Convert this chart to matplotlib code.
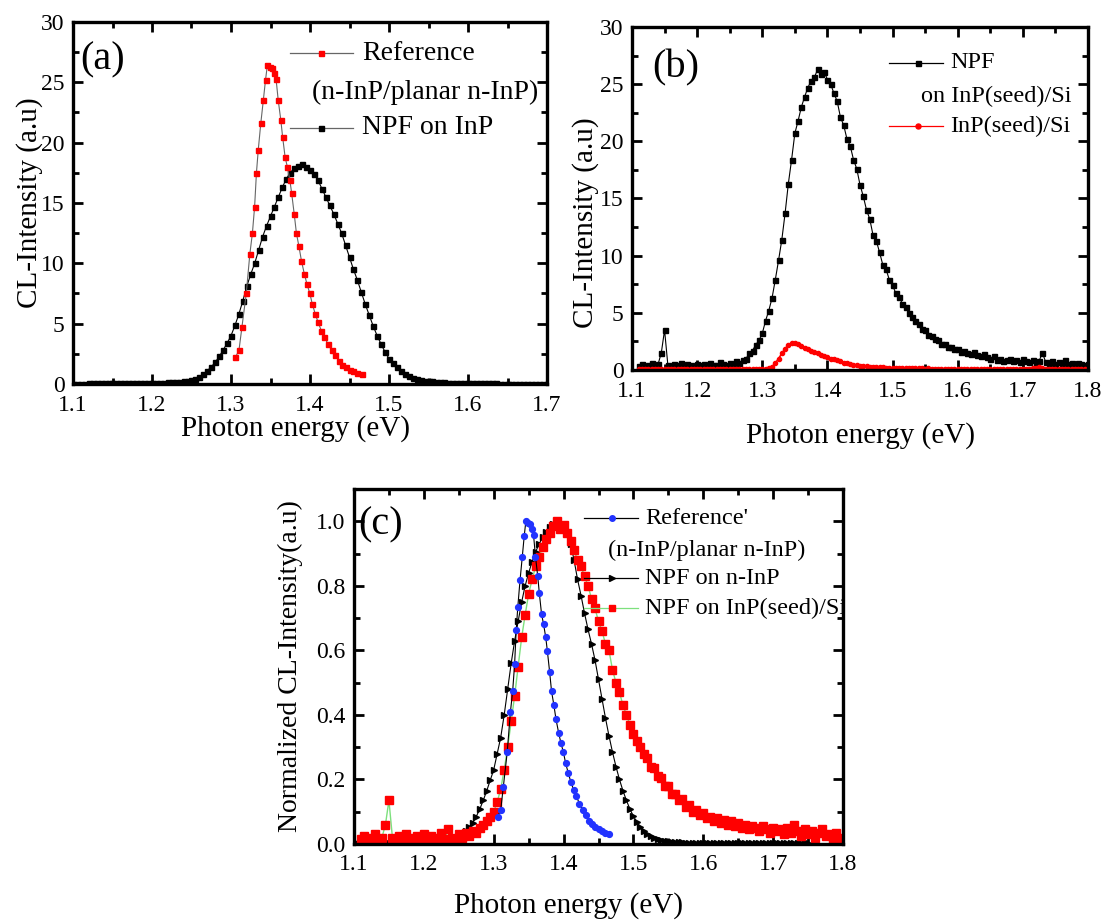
import numpy as np
import matplotlib
matplotlib.use("Agg")
import matplotlib.pyplot as plt
from matplotlib.ticker import MultipleLocator, FormatStrFormatter
from matplotlib.lines import Line2D

plt.rcParams['font.family'] = ['Liberation Serif', 'DejaVu Serif']

# ---------------- data ----------------
# (a) NPF on InP : energy grid 1.100 .. 1.700 step 0.005
a_npf_e = np.round(np.arange(1.100, 1.7001, 0.005), 3)
a_npf_i = [
    0.04, 0.04, 0.04, 0.04, 0.05, 0.05, 0.05, 0.05, 0.05, 0.05, 0.06, 0.06, 0.06, 0.06, 0.06, 0.07, 0.07, 0.07, 0.08, 0.08,
    0.09, 0.10, 0.11, 0.12, 0.13, 0.15, 0.17, 0.20, 0.24, 0.29, 0.35, 0.45, 0.60, 0.82, 1.10, 1.42, 1.80, 2.28, 2.80, 3.38,
    4.00, 4.85, 5.80, 6.90, 8.10, 9.10, 10.0, 11.1, 12.2, 13.1, 13.9, 14.7, 15.5, 16.3, 17.0, 17.5, 17.9, 18.1, 18.2, 18.0,
    17.7, 17.4, 16.9, 16.2, 15.5, 14.8, 14.1, 13.3, 12.5, 11.5, 10.5, 9.5, 8.6, 7.6, 6.6, 5.7, 4.8, 4.0, 3.3, 2.65,
    2.10, 1.70, 1.40, 1.08, 0.85, 0.66, 0.52, 0.42, 0.35, 0.29, 0.25, 0.21, 0.17, 0.15, 0.13, 0.11, 0.10, 0.09, 0.08, 0.07,
    0.06, 0.06, 0.06, 0.05, 0.05, 0.05, 0.05, 0.05, 0.04, 0.04, 0.04, 0.04, 0.04, 0.04, 0.03, 0.03, 0.03, 0.03, 0.03, 0.03, 0.03,
]

# (a) Reference (n-InP/planar n-InP)
a_ref_e = [
    1.3055, 1.3101, 1.3138, 1.3193, 1.3239, 1.3271, 1.3299, 1.3322, 1.3345, 1.3377,
    1.3409, 1.3437, 1.3460, 1.3492, 1.3515, 1.3547, 1.3570, 1.3598, 1.3630, 1.3653,
    1.3685, 1.3713, 1.3745, 1.3768, 1.3800, 1.3828, 1.3860, 1.3892, 1.3929, 1.3961,
    1.3998, 1.4030, 1.4067, 1.4103, 1.4145, 1.4182, 1.4228, 1.4274, 1.4320, 1.4366,
    1.4411, 1.4457, 1.4503, 1.4549, 1.4595, 1.4655,
]
a_ref_i = [
    2.2, 2.8, 4.7, 7.5, 10.8, 12.5, 14.7, 17.5, 19.4, 21.6,
    23.5, 25.2, 26.4, 26.3, 26.2, 25.8, 25.3, 23.5, 21.9, 20.5,
    18.8, 18.0, 16.9, 15.8, 14.1, 12.5, 11.4, 10.2, 9.1, 8.3,
    7.5, 6.6, 5.8, 5.1, 4.4, 3.9, 3.3, 2.8, 2.4, 1.9,
    1.6, 1.4, 1.2, 1.05, 0.9, 0.85,
]

# (b) energy grid 1.110 .. 1.800 step 0.005
b_e = np.round(np.arange(1.110, 1.8001, 0.005), 3)
b_npf_i = [
    0.35, 0.55, 0.30, 0.45, 0.60, 0.40, 0.50, 1.50, 3.50, 0.45, 0.30, 0.55, 0.40, 0.65, 0.35, 0.50, 0.45, 0.30, 0.55, 0.40,
    0.50, 0.35, 0.60, 0.45, 0.40, 0.70, 0.50, 0.45, 0.60, 0.55, 0.75, 0.60, 0.90, 1.00, 1.45, 1.70, 2.20, 2.60, 3.20, 4.30,
    5.2, 6.3, 7.9, 9.6, 11.4, 13.7, 16.3, 18.4, 20.7, 21.8, 23.0, 23.9, 24.7, 25.3, 25.6, 26.3, 25.9, 26.1, 25.4, 25.0,
    24.2, 23.5, 22.1, 21.4, 20.2, 19.6, 18.4, 17.6, 16.2, 15.2, 14.0, 13.2, 11.8, 11.3, 10.3, 9.2, 8.8, 7.9, 7.4, 6.7,
    6.4, 5.8, 5.5, 5.0, 4.6, 4.3, 4.0, 3.6, 3.5, 3.1, 3.0, 2.7, 2.6, 2.3, 2.3, 2.0, 2.0, 1.8, 1.8, 1.6,
    1.7, 1.5, 1.4, 1.6, 1.3, 1.2, 1.4, 1.1, 1.0, 1.2, 0.9, 1.0, 0.8, 0.9, 1.0, 0.8, 0.9, 0.7, 1.0, 0.8,
    0.7, 0.9, 0.6, 0.8, 1.5, 0.7, 0.6, 0.8, 0.5, 0.7, 0.6, 0.9, 0.5, 0.6, 0.4, 0.6, 0.5, 0.4, 0.5,
]
b_seed_i = [
    0.10, 0.12, 0.09, 0.11, 0.10, 0.12, 0.10, 0.11, 0.09, 0.12, 0.10, 0.11, 0.10, 0.12, 0.09, 0.11, 0.10, 0.12, 0.10, 0.11,
    0.10, 0.12, 0.10, 0.11, 0.09, 0.12, 0.10, 0.11, 0.10, 0.12, 0.10, 0.11, 0.10, 0.12, 0.10, 0.11, 0.10, 0.12, 0.11, 0.13,
    0.15, 0.30, 0.60, 1.00, 1.45, 1.85, 2.20, 2.35, 2.40, 2.30, 2.10, 1.95, 1.80, 1.70, 1.55, 1.45, 1.30, 1.20, 1.10, 1.00,
    0.92, 0.85, 0.75, 0.65, 0.57, 0.50, 0.45, 0.40, 0.37, 0.34, 0.31, 0.29, 0.27, 0.25, 0.24, 0.22, 0.21, 0.20, 0.19, 0.18,
    0.18, 0.17, 0.16, 0.16, 0.15, 0.15, 0.14, 0.14, 0.13, 0.14, 0.13, 0.13, 0.12, 0.13, 0.12, 0.12, 0.13, 0.12, 0.11, 0.12,
    0.12, 0.11, 0.12, 0.11, 0.12, 0.11, 0.12, 0.11, 0.12, 0.11, 0.12, 0.11, 0.12, 0.11, 0.12, 0.11, 0.12, 0.13, 0.12, 0.13,
    0.12, 0.14, 0.18, 0.30, 0.20, 0.13, 0.12, 0.11, 0.12, 0.11, 0.12, 0.11, 0.10, 0.11, 0.10, 0.11, 0.10, 0.11, 0.10,
]

# (c) normalized
c_ref_e = a_ref_e
c_ref_n = [
    0.083, 0.106, 0.178, 0.284, 0.409, 0.473, 0.557, 0.663, 0.735, 0.818,
    0.890, 0.955, 1.000, 0.996, 0.992, 0.977, 0.958, 0.890, 0.830, 0.777,
    0.712, 0.682, 0.640, 0.598, 0.534, 0.473, 0.432, 0.386, 0.345, 0.314,
    0.284, 0.250, 0.220, 0.193, 0.167, 0.148, 0.125, 0.106, 0.091, 0.072,
    0.061, 0.053, 0.045, 0.040, 0.034, 0.032,
]
c_npf_e = np.round(np.arange(1.100, 1.7501, 0.005), 3)
c_npf_n = [
    0.002, 0.002, 0.002, 0.002, 0.003, 0.003, 0.003, 0.003, 0.003, 0.003, 0.003, 0.003, 0.003, 0.003, 0.003, 0.004, 0.004, 0.004, 0.004, 0.004,
    0.005, 0.005, 0.006, 0.007, 0.008, 0.009, 0.010, 0.012, 0.015, 0.019, 0.024, 0.031, 0.040, 0.052, 0.066, 0.085, 0.108, 0.135, 0.165, 0.197,
    0.230, 0.280, 0.330, 0.400, 0.480, 0.560, 0.630, 0.690, 0.750, 0.800, 0.840, 0.875, 0.905, 0.930, 0.950, 0.968, 0.982, 0.993, 1.000, 0.997,
    0.985, 0.965, 0.930, 0.880, 0.820, 0.770, 0.715, 0.665, 0.620, 0.570, 0.510, 0.450, 0.390, 0.335, 0.285, 0.240, 0.200, 0.165, 0.135, 0.108,
    0.086, 0.068, 0.053, 0.041, 0.032, 0.025, 0.019, 0.015, 0.012, 0.010, 0.008, 0.007, 0.006, 0.005, 0.005, 0.004, 0.004, 0.004, 0.003, 0.003,
    0.003, 0.003, 0.003, 0.003, 0.003, 0.003, 0.003, 0.003, 0.003, 0.003, 0.002, 0.002, 0.002, 0.002, 0.002, 0.002, 0.002, 0.002, 0.002, 0.002,
    0.002, 0.002, 0.002, 0.002, 0.002, 0.002, 0.002, 0.002, 0.002, 0.002, 0.002,
]
c_seed_e = b_e
c_seed_n = [
    0.015, 0.025, 0.010, 0.020, 0.030, 0.015, 0.020, 0.060, 0.135, 0.020, 0.010, 0.025, 0.015, 0.030, 0.010, 0.020, 0.025, 0.010, 0.030, 0.015,
    0.025, 0.010, 0.020, 0.035, 0.015, 0.045, 0.020, 0.015, 0.030, 0.020, 0.035, 0.025, 0.040, 0.035, 0.050, 0.060, 0.070, 0.085, 0.100, 0.130,
    0.170, 0.230, 0.300, 0.380, 0.460, 0.550, 0.640, 0.710, 0.775, 0.820, 0.860, 0.890, 0.920, 0.945, 0.965, 0.985, 1.000, 0.975, 0.990, 0.965,
    0.940, 0.910, 0.880, 0.860, 0.830, 0.800, 0.760, 0.730, 0.690, 0.660, 0.620, 0.600, 0.540, 0.500, 0.470, 0.430, 0.400, 0.370, 0.340, 0.320,
    0.300, 0.280, 0.265, 0.240, 0.235, 0.210, 0.205, 0.180, 0.180, 0.155, 0.155, 0.135, 0.140, 0.115, 0.120, 0.100, 0.105, 0.090, 0.095, 0.080,
    0.085, 0.070, 0.080, 0.065, 0.075, 0.060, 0.070, 0.055, 0.065, 0.050, 0.060, 0.045, 0.055, 0.050, 0.040, 0.055, 0.045, 0.035, 0.050, 0.040,
    0.045, 0.030, 0.050, 0.035, 0.060, 0.040, 0.025, 0.045, 0.030, 0.040, 0.020, 0.035, 0.045, 0.025, 0.030, 0.015, 0.035, 0.020, 0.010,
]

# ---------------- figure ----------------
W, H = 1105, 922
fig = plt.figure(figsize=(W / 100, H / 100), dpi=100)


def ax_px(l, t, r, b):
    return fig.add_axes([l / W, 1 - b / H, (r - l) / W, (b - t) / H])


axa = ax_px(73, 22, 547, 384)
axb = ax_px(632, 27, 1088, 370)
axc = ax_px(354, 489, 843, 844)

TICK_FS = 17
LABEL_FS = 21


def style(ax, xmaj, ymaj, yfmt, xpad=8):
    ax.xaxis.set_major_locator(MultipleLocator(xmaj))
    ax.xaxis.set_minor_locator(MultipleLocator(xmaj / 2))
    ax.yaxis.set_major_locator(MultipleLocator(ymaj))
    ax.yaxis.set_minor_locator(MultipleLocator(ymaj / 2))
    ax.xaxis.set_major_formatter(FormatStrFormatter('%.1f'))
    ax.yaxis.set_major_formatter(FormatStrFormatter(yfmt))
    ax.tick_params(which='both', direction='in', top=True, right=True,
                   width=2, labelsize=TICK_FS)
    ax.tick_params(axis='y', pad=6)
    ax.tick_params(axis='x', pad=xpad)
    ax.tick_params(which='major', length=7)
    ax.tick_params(which='minor', length=4)
    for s in ax.spines.values():
        s.set_linewidth(2.4)


def fx(x):
    return x / W


def fy(y):
    return 1 - y / H


def legend_row(ax, x0, x1, y, mx, tx, text, fs, lcolor, mkw, lw=0.9):
    ax.add_artist(Line2D([fx(x0), fx(x1)], [fy(y), fy(y)], transform=fig.transFigure,
                         color=lcolor, lw=lw, clip_on=False))
    ax.add_artist(Line2D([fx(mx)], [fy(y)], transform=fig.transFigure,
                         linestyle='none', clip_on=False, **mkw))
    ax.text(fx(tx), fy(y), text, transform=fig.transFigure, fontsize=fs,
            va='center', ha='left', clip_on=True, zorder=2)


def extra_line(ax, tx, y, text, fs):
    ax.text(fx(tx), fy(y), text, transform=fig.transFigure, fontsize=fs,
            va='center', ha='left', clip_on=True, zorder=2)


# ---- (a)
axa.plot(a_npf_e, a_npf_i, '-', color='black', lw=0.8, marker='s', ms=3.6,
         mfc='black', mec='black')
axa.plot(a_ref_e, a_ref_i, '-', color='#666666', lw=0.8, marker='s', ms=3.6,
         mfc='red', mec='red')
axa.set_xlim(1.1, 1.7)
axa.set_ylim(0, 30)
style(axa, 0.1, 5, '%d')
axa.set_xlabel('Photon energy (eV)', fontsize=LABEL_FS, va='center')
axa.xaxis.set_label_coords(0.47, -0.122)
axa.set_ylabel('CL-Intensity (a.u)', fontsize=LABEL_FS, va='center')
axa.yaxis.set_label_coords(-0.091, 0.5)
axa.text(fx(80), fy(60), '(a)', transform=fig.transFigure, fontsize=29, va='center', ha='left')
legend_row(axa, 290, 353, 53, 321, 362, 'Reference', 20, '#666666',
           dict(marker='s', ms=3.6, mfc='red', mec='red'))
extra_line(axa, 312, 92, '(n-InP/planar n-InP)', 20)
legend_row(axa, 290, 353, 128, 321, 362, 'NPF on InP', 20, '#666666',
           dict(marker='s', ms=3.6, mfc='black', mec='black'))

# ---- (b)
axb.plot(b_e, b_npf_i, '-', color='black', lw=0.8, marker='s', ms=3.6,
         mfc='black', mec='black')
axb.plot(b_e, b_seed_i, '-', color='red', lw=1.2, marker='o', ms=3.0,
         mfc='red', mec='red')
axb.set_xlim(1.1, 1.8)
axb.set_ylim(0, 30)
style(axb, 0.1, 5, '%d')
axb.set_xlabel('Photon energy (eV)', fontsize=LABEL_FS, va='center')
axb.xaxis.set_label_coords(0.5, -0.19)
axb.set_ylabel('CL-Intensity (a.u)', fontsize=LABEL_FS, va='center')
axb.yaxis.set_label_coords(-0.103, 0.43)
axb.text(fx(652), fy(68), '(b)', transform=fig.transFigure, fontsize=29, va='center', ha='left')
legend_row(axb, 889, 943, 63, 918, 950, 'NPF', 17.5, 'black',
           dict(marker='s', ms=3.6, mfc='black', mec='black'))
extra_line(axb, 921, 96, 'on InP(seed)/Si', 17.5)
legend_row(axb, 889, 943, 126, 918, 950, 'InP(seed)/Si', 17.5, 'red',
           dict(marker='o', ms=3.6, mfc='red', mec='red'))

# ---- (c)
axc.plot(c_npf_e, c_npf_n, '-', color='black', lw=0.8, marker='>', ms=4.2,
         mfc='black', mec='black')
axc.plot(c_seed_e, c_seed_n, '-', color='#7de07d', lw=1.0, marker='s', ms=5.2,
         mfc='red', mec='red')
axc.plot(c_ref_e, c_ref_n, '-', color='black', lw=0.8, marker='o', ms=4.2,
         mfc='#2233ff', mec='#2233ff')
axc.set_xlim(1.1, 1.8)
axc.set_ylim(0, 1.1)
style(axc, 0.1, 0.2, '%.1f', xpad=7)
axc.set_xlabel('Photon energy (eV)', fontsize=LABEL_FS, va='center')
axc.xaxis.set_label_coords(0.438, -0.172)
axc.set_ylabel('Normalized CL-Intensity(a.u)', fontsize=20, va='center')
axc.yaxis.set_label_coords(-0.131, 0.5)
axc.text(fx(358), fy(525), '(c)', transform=fig.transFigure, fontsize=29, va='center', ha='left')
legend_row(axc, 584, 638, 518, 612, 645, "Reference'", 17.5, 'black',
           dict(marker='o', ms=4.0, mfc='#2233ff', mec='#2233ff'))
extra_line(axc, 608, 550, '(n-InP/planar n-InP)', 17.5)
legend_row(axc, 584, 638, 578, 612, 645, 'NPF on n-InP', 17.5, 'black',
           dict(marker='>', ms=4.5, mfc='black', mec='black'))
legend_row(axc, 584, 638, 608, 612, 645, 'NPF on InP(seed)/Si', 17.5, '#7de07d',
           dict(marker='s', ms=5.0, mfc='red', mec='red'))

fig.savefig('out.png', dpi=100)
